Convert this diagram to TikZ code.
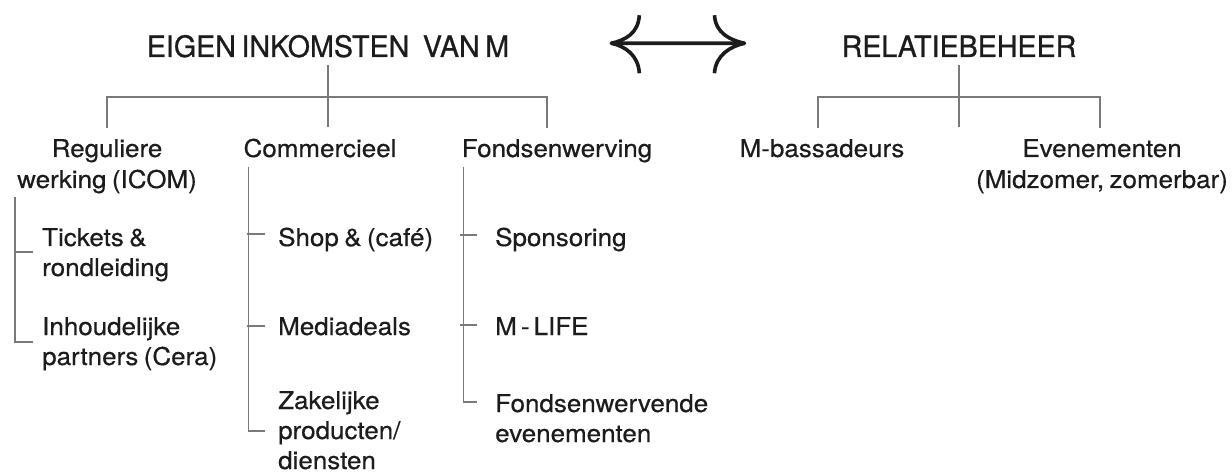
\documentclass[tikz,border=0pt]{standalone}
\usepackage{fontspec}
\usetikzlibrary{positioning}
\newfontfamily\headfont{TeX Gyre Heros}[FakeStretch=0.97, FakeBold=0.8, WordSpace=0.7]
\newfontfamily\bodyfont{TeX Gyre Heros}[FakeStretch=1.06, FakeBold=0.5, WordSpace=0.75]
\definecolor{inkt}{HTML}{1C1C1C}
\definecolor{lijn}{HTML}{7A7A7A}
\tikzstyle{head} = [inner sep=0pt, text=inkt, anchor=base, font=\headfont\fontsize{29.5}{31}\selectfont]
\tikzstyle{sub}  = [inner sep=0pt, text=inkt, anchor=base, align=center, font=\bodyfont\fontsize{24.5}{31}\selectfont]
\tikzstyle{item} = [inner sep=0pt, text=inkt, anchor=base west, align=left, font=\bodyfont\fontsize{24.5}{30}\selectfont]

\begin{document}
\begin{tikzpicture}[x=1pt, y=1pt,
  tree/.style={draw=lijn, line width=1.3pt},
  hook/.style={draw=inkt, line width=3.6pt, line join=round}]
\useasboundingbox (0,0) rectangle (1232,-473);

% Define nodes
\node[head] (tin)  at (328,-57) {EIGEN INKOMSTEN\hspace{8pt} VAN M};
\node[head] (trel) at (959,-57) {RELATIEBEHEER};

\node[sub] (reg)  at (107,-188) {Reguliere\\werking (ICOM)};
\node[sub] (com)  at (320,-157) {Commercieel};
\node[sub] (fon)  at (557,-157) {Fondsenwerving};
\node[sub] (mbas) at (822,-157) {M-bassadeurs};
\node[sub] (eve)  at (1102,-188) {Evenementen\\(Midzomer, zomerbar)};

\node[item] (tic)  at (42,-276)  {Tickets \&\\rondleiding};
\node[below = 89pt of tic.base west, item]  (inh) {Inhoudelijke\\partners (Cera)};
\node[item] (shop) at (278,-246) {Shop \& (caf\'e)};
\node[below = 89pt of shop.base west, item] (med) {Mediadeals};
\node[below = 134pt of med.base west, item] (zak) {Zakelijke\\producten/\\diensten};
\node[item] (spo)  at (495,-246) {Sponsoring};
\node[below = 89pt of spo.base west, item]  (mli) {M\thinspace-\thinspace LIFE};
\node[below = 107pt of mli.base west, item] (fwe) {Fondsenwervende\\evenementen};

% Arrow between both titles
\coordinate (al) at ([xshift=102pt,yshift=3pt]tin.east);
\coordinate (ar) at ([xshift=-97pt,yshift=3pt]trel.west);
\draw[hook] (al) -- (ar);
\draw[hook] ([shift={(28,28)}]al) .. controls +(-1,-18) and +(14,3) .. (al)
            .. controls +(14,-3) and +(-1,18) .. ([shift={(28,-30)}]al);
\draw[hook] ([shift={(-30,28)}]ar) .. controls +(1,-18) and +(-14,3) .. (ar)
            .. controls +(-14,-3) and +(1,18) .. ([shift={(-30,-30)}]ar);

% Edges
\coordinate (lbar) at ([yshift=-40pt]tin.base);
\coordinate (rbar) at ([yshift=-40pt]trel.base);
\draw[tree] ([yshift=-8pt]tin.base) -- ++(0,-62);
\draw[tree] ([yshift=11pt]reg.north) |- (lbar) -| ([xshift=-10pt,yshift=11pt]fon.north);
\draw[tree] ([yshift=-8pt]trel.base) -- ++(0,-62);
\draw[tree] ([xshift=-4pt,yshift=11pt]mbas.north) |- (rbar) -| ([xshift=-2pt,yshift=11pt]eve.north);

\draw[tree] ([xshift=-2pt,yshift=-3.5pt]reg.south west) |- ([xshift=-9pt,yshift=23pt]inh.base west);
\draw[tree] ([xshift=-27pt,yshift=24pt]tic.base west) -- ([xshift=-9pt,yshift=24pt]tic.base west);

\draw[tree] ([xshift=5pt,yshift=-9pt]com.south west) |- ([xshift=-13pt,yshift=38pt]zak.base west);
\draw[tree] ([xshift=-31pt,yshift=12pt]shop.base west) -- ([xshift=-13pt,yshift=12pt]shop.base west);
\draw[tree] ([xshift=-31pt,yshift=9pt]med.base west) -- ([xshift=-13pt,yshift=9pt]med.base west);

\draw[tree] ([xshift=2pt,yshift=-4pt]fon.south west) |- ([xshift=-18pt,yshift=40pt]fwe.base west);
\draw[tree] ([xshift=-35pt,yshift=11pt]spo.base west) -- ([xshift=-18pt,yshift=11pt]spo.base west);
\draw[tree] ([xshift=-35pt,yshift=10pt]mli.base west) -- ([xshift=-18pt,yshift=10pt]mli.base west);

\end{tikzpicture}
\end{document}
